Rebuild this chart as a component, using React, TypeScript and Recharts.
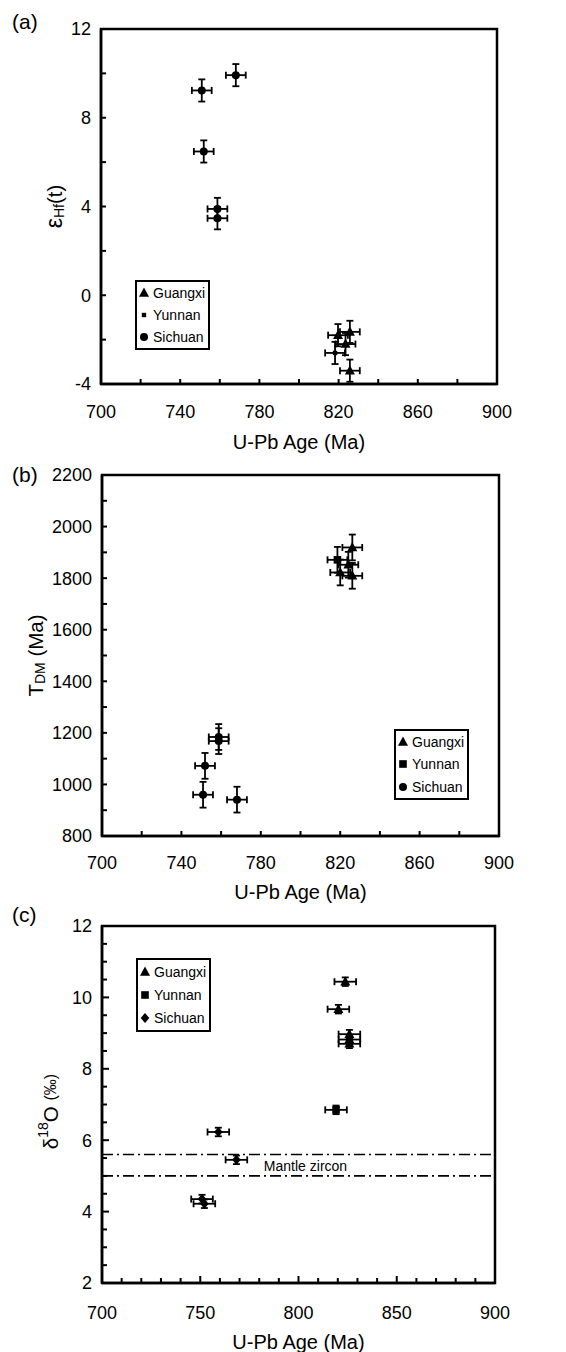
import React from "react";
import {
  ScatterChart,
  Scatter,
  XAxis,
  YAxis,
  ErrorBar,
  ReferenceArea,
  ReferenceLine,
  Legend,
} from "recharts";

const FONT = "'Liberation Sans', Arial, Helvetica, sans-serif";

const regions = ["Guangxi", "Yunnan", "Sichuan"];

// (a) zircon Hf, epsilon Hf(t) vs U-Pb age
const hfGuangxiAge = [819.7, 825.7, 823.5, 825.7];
const hfGuangxiEps = [-1.8, -1.65, -2.2, -3.4];
const hfYunnanAge = [818.2];
const hfYunnanEps = [-2.6];
const hfSichuanAge = [750.9, 768.1, 751.9, 758.8, 758.8];
const hfSichuanEps = [9.23, 9.92, 6.48, 3.89, 3.47];

// (b) depleted mantle model ages
const tdmGuangxiAge = [820.0, 826.1, 824.1, 826.1];
const tdmGuangxiVal = [1822, 1919, 1852, 1809];
const tdmYunnanAge = [818.6];
const tdmYunnanVal = [1871];
const tdmSichuanAge = [750.9, 768.0, 751.9, 758.8, 758.8];
const tdmSichuanVal = [960, 941, 1072, 1184, 1168];

// (c) zircon oxygen
const oGuangxiAge = [823.8, 820.3, 825.9, 825.9, 825.9];
const oGuangxiVal = [10.44, 9.67, 8.97, 8.82, 8.7];
const oYunnanAge = [819.1];
const oYunnanVal = [6.85];
const oSichuanAge = [759.2, 768.4, 750.9, 752.1];
const oSichuanVal = [6.23, 5.45, 4.35, 4.22];

// uncertainties
const ageErr = 5;
const hfErr = 0.5;
const tdmErr = 50;
const oAgeErr = 5.5;
const oErr = 0.12;

const mantleZircon = [5.0, 5.6];

// ticks
const ageTicks20 = [700, 720, 740, 760, 780, 800, 820, 840, 860, 880, 900];
const ageLabels40 = [700, 740, 780, 820, 860, 900];
const ageTicks10 = [
  700, 710, 720, 730, 740, 750, 760, 770, 780, 790, 800, 810, 820, 830, 840, 850, 860, 870, 880, 890, 900,
];
const ageLabels50 = [700, 750, 800, 850, 900];
const hfTicks = [-4, -2, 0, 2, 4, 6, 8, 10, 12];
const hfLabels = [-4, 0, 4, 8, 12];
const tdmTicks = [800, 900, 1000, 1100, 1200, 1300, 1400, 1500, 1600, 1700, 1800, 1900, 2000, 2100, 2200];
const tdmLabels = [800, 1000, 1200, 1400, 1600, 1800, 2000, 2200];
const oTicks = [2, 2.5, 3, 3.5, 4, 4.5, 5, 5.5, 6, 6.5, 7, 7.5, 8, 8.5, 9, 9.5, 10, 10.5, 11, 11.5, 12];
const oLabels = [2, 4, 6, 8, 10, 12];

const rows = (ages: number[], vals: number[], ex: number, ey: number) =>
  ages.map((x, i) => ({ x, y: vals[i], ex, ey }));

type Mark = "triangle" | "square" | "smallSquare" | "circle" | "diamond";

function Marker({ kind, cx, cy }: { kind: Mark; cx: number; cy: number }) {
  switch (kind) {
    case "triangle":
      return <polygon points={`${cx},${cy - 5.5} ${cx - 5},${cy + 3.8} ${cx + 5},${cy + 3.8}`} fill="#000" />;
    case "square":
      return <rect x={cx - 3.8} y={cy - 3.8} width={7.6} height={7.6} fill="#000" />;
    case "smallSquare":
      return <rect x={cx - 2.2} y={cy - 2.2} width={4.4} height={4.4} fill="#000" />;
    case "diamond":
      return <polygon points={`${cx},${cy - 5} ${cx + 4.3},${cy} ${cx},${cy + 5} ${cx - 4.3},${cy}`} fill="#000" />;
    default:
      return <circle cx={cx} cy={cy} r={4} fill="#000" />;
  }
}

const shapeOf = (kind: Mark) => (p: any) => <Marker kind={kind} cx={p.cx} cy={p.cy} />;

function LegendBox({ marks, rowHeight }: { marks: Record<string, Mark>; rowHeight: number }) {
  return (
    <div
      style={{
        border: "2px solid #000",
        background: "#fff",
        fontFamily: FONT,
        fontSize: 14,
        color: "#000",
        padding: "0 3px 0 0",
        whiteSpace: "nowrap",
      }}
    >
      {regions.map((r) => (
        <div key={r} style={{ display: "flex", alignItems: "center", height: rowHeight }}>
          <svg width={14} height={12} style={{ display: "block", flex: "none" }}>
            <Marker kind={marks[r]} cx={7} cy={6} />
          </svg>
          <span style={{ marginLeft: 2 }}>{r}</span>
        </div>
      ))}
    </div>
  );
}

function XTick(props: any) {
  const { x, y, payload, labels, gap, majorLen } = props;
  const v = payload.value;
  const lab = labels.some((l: number) => Math.abs(l - v) < 1e-6);
  const len = lab && majorLen ? majorLen : 5;
  return (
    <g>
      <line x1={x} x2={x} y1={y} y2={y - len} stroke="#000" strokeWidth={2} />
      {lab && (
        <text x={x} y={y + gap} textAnchor="middle" fontFamily={FONT} fontSize={18} fill="#000">
          {v}
        </text>
      )}
    </g>
  );
}

function YTick(props: any) {
  const { x, y, payload, labels, majorLen } = props;
  const v = payload.value;
  const lab = labels.some((l: number) => Math.abs(l - v) < 1e-6);
  const len = lab && majorLen ? majorLen : 5;
  return (
    <g>
      <line x1={x} x2={x + len} y1={y} y2={y} stroke="#000" strokeWidth={2} />
      {lab && (
        <text x={x - 10} y={y} dy="0.36em" textAnchor="end" fontFamily={FONT} fontSize={18} fill="#000">
          {v}
        </text>
      )}
    </g>
  );
}

function XTitle({ viewBox, gap }: any) {
  return (
    <text
      x={viewBox.x + viewBox.width / 2}
      y={viewBox.y + gap}
      textAnchor="middle"
      fontFamily={FONT}
      fontSize={20}
      fill="#000"
    >
      U-Pb Age (Ma)
    </text>
  );
}

function YTitle({ viewBox, dist, shift, kind }: any) {
  const cx = viewBox.x + viewBox.width - dist;
  const cy = viewBox.y + viewBox.height / 2 + shift;
  return (
    <text
      transform={`translate(${cx},${cy}) rotate(-90)`}
      textAnchor="middle"
      dominantBaseline="central"
      fontFamily={FONT}
      fontSize={20.5}
      fill="#000"
    >
      {kind === "hf" && (
        <>
          <tspan fontSize={23}>ε</tspan>
          <tspan fontSize={14} dy={5}>Hf</tspan>
          <tspan dy={-5}>(t)</tspan>
        </>
      )}
      {kind === "tdm" && (
        <>
          T<tspan fontSize={14} dy={5}>DM</tspan>
          <tspan dy={-5}> (Ma)</tspan>
        </>
      )}
      {kind === "o" && (
        <>
          δ<tspan fontSize={14} dy={-7}>18</tspan>
          <tspan dy={7}>O </tspan>
          <tspan fontSize={16}>(‰)</tspan>
        </>
      )}
    </text>
  );
}

const axisLine = { stroke: "#000", strokeWidth: 2.5 };

function PanelTag({ text, top }: { text: string; top: number }) {
  return (
    <div
      style={{
        position: "absolute",
        left: 12,
        top,
        fontFamily: FONT,
        fontSize: 21,
        lineHeight: "21px",
        color: "#000",
      }}
    >
      {text}
    </div>
  );
}

export default function App() {
  const errX = () => (
    <ErrorBar dataKey="ex" direction="x" width={3.5} stroke="#000" strokeWidth={1.8} isAnimationActive={false} />
  );
  const errY = () => (
    <ErrorBar dataKey="ey" direction="y" width={3.5} stroke="#000" strokeWidth={1.8} isAnimationActive={false} />
  );

  return (
    <div style={{ position: "absolute", left: 0, top: 0, width: 566, height: 1352, background: "#fff", overflow: "hidden" }}>
      {/* (a) */}
      <div style={{ position: "absolute", left: 0, top: 0 }}>
        <ScatterChart width={566} height={470} margin={{ top: 29, right: 69, bottom: 26, left: 41 }}>
          <XAxis
            type="number"
            dataKey="x"
            domain={[700, 900]}
            ticks={ageTicks20}
            interval={0}
            tickSize={0}
            tickMargin={0}
            tickLine={false}
            axisLine={axisLine}
            height={60}
            allowDataOverflow
            tick={(p: any) => <XTick {...p} labels={ageLabels40} gap={34} />}
            label={(p: any) => <XTitle {...p} gap={65} />}
          />
          <YAxis
            type="number"
            dataKey="y"
            domain={[-4, 12]}
            ticks={hfTicks}
            interval={0}
            tickSize={0}
            tickMargin={0}
            tickLine={false}
            axisLine={axisLine}
            width={60}
            allowDataOverflow
            tick={(p: any) => <YTick {...p} labels={hfLabels} />}
            label={(p: any) => <YTitle {...p} dist={47} shift={0} kind="hf" />}
          />
          <ReferenceArea x1={700} x2={900} y1={-4} y2={12} fill="none" stroke="#000" strokeWidth={2.5} />
          <Legend
            layout="horizontal"
            verticalAlign="middle"
            align="center"
            wrapperStyle={{ left: 135, top: 280, width: "auto" }}
            content={() => (
              <LegendBox marks={{ Guangxi: "triangle", Yunnan: "smallSquare", Sichuan: "circle" }} rowHeight={22} />
            )}
          />
          <Scatter name="Sichuan" data={rows(hfSichuanAge, hfSichuanEps, ageErr, hfErr)} shape={shapeOf("circle")} isAnimationActive={false}>
            {errX()}
            {errY()}
          </Scatter>
          <Scatter name="Yunnan" data={rows(hfYunnanAge, hfYunnanEps, ageErr, hfErr)} shape={shapeOf("smallSquare")} isAnimationActive={false}>
            {errX()}
            {errY()}
          </Scatter>
          <Scatter name="Guangxi" data={rows(hfGuangxiAge, hfGuangxiEps, ageErr, hfErr)} shape={shapeOf("triangle")} isAnimationActive={false}>
            {errX()}
            {errY()}
          </Scatter>
        </ScatterChart>
      </div>

      {/* (b) */}
      <div style={{ position: "absolute", left: 0, top: 450 }}>
        <ScatterChart width={566} height={460} margin={{ top: 25, right: 67, bottom: 24, left: 42 }}>
          <XAxis
            type="number"
            dataKey="x"
            domain={[700, 900]}
            ticks={ageTicks20}
            interval={0}
            tickSize={0}
            tickMargin={0}
            tickLine={false}
            axisLine={axisLine}
            height={50}
            allowDataOverflow
            tick={(p: any) => <XTick {...p} labels={ageLabels40} gap={33} />}
            label={(p: any) => <XTitle {...p} gap={63} />}
          />
          <YAxis
            type="number"
            dataKey="y"
            domain={[800, 2200]}
            ticks={tdmTicks}
            interval={0}
            tickSize={0}
            tickMargin={0}
            tickLine={false}
            axisLine={axisLine}
            width={60}
            allowDataOverflow
            tick={(p: any) => <YTick {...p} labels={tdmLabels} />}
            label={(p: any) => <YTitle {...p} dist={67} shift={0} kind="tdm" />}
          />
          <ReferenceArea x1={700} x2={900} y1={800} y2={2200} fill="none" stroke="#000" strokeWidth={2.5} />
          <Legend
            layout="horizontal"
            verticalAlign="middle"
            align="center"
            wrapperStyle={{ left: 394, top: 279, width: "auto" }}
            content={() => (
              <LegendBox marks={{ Guangxi: "triangle", Yunnan: "square", Sichuan: "circle" }} rowHeight={22.3} />
            )}
          />
          <Scatter name="Sichuan" data={rows(tdmSichuanAge, tdmSichuanVal, ageErr, tdmErr)} shape={shapeOf("circle")} isAnimationActive={false}>
            {errX()}
            {errY()}
          </Scatter>
          <Scatter name="Yunnan" data={rows(tdmYunnanAge, tdmYunnanVal, ageErr, tdmErr)} shape={shapeOf("square")} isAnimationActive={false}>
            {errX()}
            {errY()}
          </Scatter>
          <Scatter name="Guangxi" data={rows(tdmGuangxiAge, tdmGuangxiVal, ageErr, tdmErr)} shape={shapeOf("triangle")} isAnimationActive={false}>
            {errX()}
            {errY()}
          </Scatter>
        </ScatterChart>
      </div>

      {/* (c) */}
      <div style={{ position: "absolute", left: 0, top: 890 }}>
        <ScatterChart width={566} height={462} margin={{ top: 36, right: 71, bottom: 9, left: 42 }}>
          <XAxis
            type="number"
            dataKey="x"
            domain={[700, 900]}
            ticks={ageTicks10}
            interval={0}
            tickSize={0}
            tickMargin={0}
            tickLine={false}
            axisLine={axisLine}
            height={60}
            allowDataOverflow
            tick={(p: any) => <XTick {...p} labels={ageLabels50} gap={36} majorLen={7} />}
            label={(p: any) => <XTitle {...p} gap={66} />}
          />
          <YAxis
            type="number"
            dataKey="y"
            domain={[2, 12]}
            ticks={oTicks}
            interval={0}
            tickSize={0}
            tickMargin={0}
            tickLine={false}
            axisLine={axisLine}
            width={60}
            allowDataOverflow
            tick={(p: any) => <YTick {...p} labels={oLabels} majorLen={7} />}
            label={(p: any) => <YTitle {...p} dist={52} shift={7} kind="o" />}
          />
          <ReferenceArea x1={700} x2={900} y1={2} y2={12} fill="none" stroke="#000" strokeWidth={2.5} />
          {mantleZircon.map((v, i) => (
            <ReferenceLine
              key={v}
              y={v}
              stroke="#000"
              strokeWidth={1.6}
              strokeDasharray="11 4 2 4"
              label={
                i === 0
                  ? (p: any) => (
                      <text
                        x={p.viewBox.x + p.viewBox.width / 2 + 7}
                        y={p.viewBox.y - 5}
                        textAnchor="middle"
                        fontFamily={FONT}
                        fontSize={14}
                        fill="#000"
                      >
                        Mantle zircon
                      </text>
                    )
                  : undefined
              }
            />
          ))}
          <Legend
            layout="horizontal"
            verticalAlign="middle"
            align="center"
            wrapperStyle={{ left: 136, top: 68, width: "auto" }}
            content={() => (
              <LegendBox marks={{ Guangxi: "triangle", Yunnan: "square", Sichuan: "diamond" }} rowHeight={23.3} />
            )}
          />
          <Scatter name="Guangxi" data={rows(oGuangxiAge, oGuangxiVal, oAgeErr, oErr)} shape={shapeOf("triangle")} isAnimationActive={false}>
            {errX()}
            {errY()}
          </Scatter>
          <Scatter name="Yunnan" data={rows(oYunnanAge, oYunnanVal, oAgeErr, oErr)} shape={shapeOf("square")} isAnimationActive={false}>
            {errX()}
            {errY()}
          </Scatter>
          <Scatter name="Sichuan" data={rows(oSichuanAge, oSichuanVal, oAgeErr, oErr)} shape={shapeOf("diamond")} isAnimationActive={false}>
            {errX()}
            {errY()}
          </Scatter>
        </ScatterChart>
      </div>

      <PanelTag text="(a)" top={11} />
      <PanelTag text="(b)" top={464} />
      <PanelTag text="(c)" top={904} />
    </div>
  );
}
